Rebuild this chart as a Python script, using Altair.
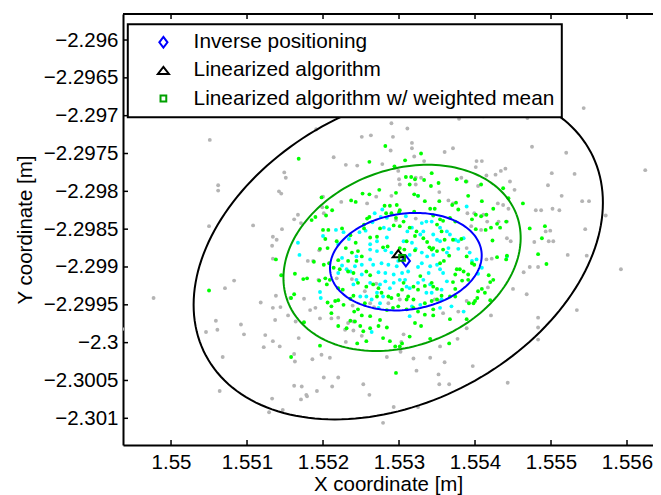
import math
import altair as alt
import pandas as pd

FONT = "Liberation Sans"

X_TICKS = [1.550, 1.551, 1.552, 1.553, 1.554, 1.555, 1.556]
Y_TICKS = [-2.296, -2.2965, -2.297, -2.2975, -2.298, -2.2985, -2.299,
           -2.2995, -2.300, -2.3005, -2.301]
X_DOMAIN = [1.549368, 1.556342]
Y_DOMAIN = [-2.301353, -2.295656]

METHODS = ["Inverse positioning", "Linearized algorithm",
           "Linearized algorithm w/ weighted mean"]
MEAN_X = [1.55309, 1.55299, 1.55304]
MEAN_Y = [-2.29892, -2.298825, -2.29888]
MARKER_COLORS = ["#0000ff", "#000000", "#00a000"]
MARKER_SHAPES = ["M0,-0.9L0.68,0L0,0.9L-0.68,0Z",
                 "M0,-0.6L0.92,0.6L-0.92,0.6Z",
                 "M-0.48,-0.48L0.48,-0.48L0.48,0.48L-0.48,0.48Z"]

# covariance ellipses: centre, semi-axes [m], orientation [deg]
ELL_CX = [1.55299, 1.55304, 1.55309]
ELL_CY = [-2.298825, -2.29888, -2.29893]
ELL_A = [0.002867, 0.001611, 0.001004]
ELL_B = [0.001956, 0.001164, 0.000635]
ELL_ANGLE = [28, 21, 8]
ELL_COLORS = ["#000000", "#00a000", "#0000ff"]

GRAY_PTS = [
    (1.55051, -2.29732), (1.55062, -2.29792), (1.55062, -2.29799), (1.55050, -2.29846),
    (1.55108, -2.29845), (1.55133, -2.29872), (1.55134, -2.29889), (1.55071, -2.29928),
    (1.55083, -2.29918), (1.54977, -2.29941), (1.55118, -2.29947), (1.55134, -2.29954),
    (1.55059, -2.29971), (1.55061, -2.29983), (1.55046, -2.29986), (1.55092, -2.29976),
    (1.55096, -2.29989), (1.55124, -2.29990), (1.55134, -2.29998), (1.55122, -2.30006),
    (1.55068, -2.30019), (1.55064, -2.30064), (1.55133, -2.30074), (1.55129, -2.30092),
    (1.54936, -2.29982), (1.55147, -2.30089), (1.55137, -2.29970), (1.55138, -2.29938),
    (1.55154, -2.29964), (1.55163, -2.30025), (1.55162, -2.30015), (1.55168, -2.29994),
    (1.55175, -2.29942), (1.55183, -2.29957), (1.55186, -2.30022), (1.55172, -2.30058),
    (1.55162, -2.30057), (1.55178, -2.30069), (1.55179, -2.30071), (1.55171, -2.30075),
    (1.55192, -2.30064), (1.55201, -2.30046), (1.55196, -2.29968), (1.55190, -2.29954),
    (1.55194, -2.29917), (1.55180, -2.29892), (1.55191, -2.29718), (1.55149, -2.29775),
    (1.55151, -2.29782), (1.55142, -2.29800), (1.55145, -2.29803), (1.55146, -2.29850),
    (1.55162, -2.29837), (1.55167, -2.29831), (1.55200, -2.29807), (1.55201, -2.29829),
    (1.55171, -2.29842), (1.55134, -2.29860), (1.55139, -2.29864), (1.55251, -2.29728),
    (1.55263, -2.29726), (1.55292, -2.29728), (1.55289, -2.29746), (1.55214, -2.29755),
    (1.55230, -2.29765), (1.55245, -2.29766), (1.55278, -2.29764), (1.55299, -2.29773),
    (1.55300, -2.29784), (1.55301, -2.29791), (1.55290, -2.29806), (1.55270, -2.29807),
    (1.55224, -2.29814), (1.55258, -2.29816), (1.55199, -2.29821), (1.55296, -2.29838),
    (1.55290, -2.29710), (1.55311, -2.29717), (1.55379, -2.29704), (1.55411, -2.29701),
    (1.55469, -2.29703), (1.55543, -2.29690), (1.55317, -2.29736), (1.55317, -2.29743),
    (1.55360, -2.29748), (1.55371, -2.29743), (1.55333, -2.29760), (1.55475, -2.29741),
    (1.55520, -2.29749), (1.55402, -2.29760), (1.55409, -2.29760), (1.55401, -2.29768),
    (1.55440, -2.29770), (1.55434, -2.29773), (1.55415, -2.29779), (1.55427, -2.29778),
    (1.55446, -2.29787), (1.55501, -2.29776), (1.55531, -2.29777), (1.55624, -2.29772),
    (1.55496, -2.29792), (1.55514, -2.29806), (1.55541, -2.29813), (1.55550, -2.29813),
    (1.55572, -2.29832), (1.55480, -2.29825), (1.55487, -2.29825), (1.55502, -2.29823),
    (1.55511, -2.29825), (1.55493, -2.29853), (1.55499, -2.29852), (1.55503, -2.29866),
    (1.55497, -2.29866), (1.55545, -2.29850), (1.55442, -2.29840), (1.55430, -2.29816),
    (1.55437, -2.29818), (1.55452, -2.29798), (1.55322, -2.29782), (1.55329, -2.29782),
    (1.55404, -2.29793), (1.55365, -2.29812), (1.55371, -2.29816), (1.55399, -2.29829),
    (1.55411, -2.29831), (1.55431, -2.29840), (1.55408, -2.29851), (1.55442, -2.29862),
    (1.55447, -2.29866), (1.55478, -2.29867), (1.55522, -2.29884), (1.55547, -2.29885),
    (1.55592, -2.29903), (1.55534, -2.29957), (1.55483, -2.29967), (1.55483, -2.29980),
    (1.55483, -2.29996), (1.55472, -2.29900), (1.55483, -2.29900), (1.55464, -2.29907),
    (1.55450, -2.29929), (1.55468, -2.29936), (1.55421, -2.29964), (1.55389, -2.29945),
    (1.55378, -2.29959), (1.55397, -2.30031), (1.55443, -2.30053), (1.55377, -2.29995),
    (1.55360, -2.30026), (1.55353, -2.30055), (1.55366, -2.30055), (1.55323, -2.30037),
    (1.55319, -2.30021), (1.55341, -2.30020), (1.55293, -2.30085), (1.55325, -2.30085),
    (1.55279, -2.30106), (1.55261, -2.30069), (1.55253, -2.30055), (1.55220, -2.30046),
    (1.55212, -2.30058), (1.55284, -2.30019), (1.55302, -2.30012), (1.55230, -2.29999),
    (1.55240, -2.29984), (1.55251, -2.29991), (1.55209, -2.30020), (1.55303, -2.29999),
    (1.55352, -2.30042), (1.55320, -2.29754), (1.55322, -2.29791), (1.55382, -2.29782),
    (1.55389, -2.29787), (1.55353, -2.29801), (1.55390, -2.29829), (1.55444, -2.29823),
    (1.55416, -2.29840), (1.55395, -2.29846), (1.55322, -2.29836), (1.55389, -2.29875),
    (1.55415, -2.29890), (1.55422, -2.29889), (1.55417, -2.29927), (1.55347, -2.29943),
    (1.55354, -2.29945), (1.55358, -2.29961), (1.55389, -2.29981), (1.55354, -2.30005),
    (1.55306, -2.29989), (1.55195, -2.29878), (1.55187, -2.29892), (1.55157, -2.29941),
    (1.55144, -2.29953), (1.55164, -2.29972), (1.55174, -2.29974), (1.55211, -2.29968),
    (1.55220, -2.29967), (1.55233, -2.29974), (1.55240, -2.29972), (1.55239, -2.29951),
    (1.55267, -2.29953), (1.55229, -2.29983), (1.55143, -2.30005), (1.55198, -2.30016),
    (1.55238, -2.29916), (1.55270, -2.29922), (1.55255, -2.29932), (1.55218, -2.29915),
    (1.55262, -2.29948), (1.55286, -2.29948), (1.55301, -2.29943),
]

CYAN_PTS = [
    (1.55167, -2.29868), (1.55200, -2.29859), (1.55169, -2.29884), (1.55196, -2.29933),
    (1.55197, -2.29941), (1.55217, -2.29851), (1.55227, -2.29854), (1.55234, -2.29863),
    (1.55220, -2.29870), (1.55248, -2.29854), (1.55256, -2.29852), (1.55268, -2.29829),
    (1.55278, -2.29824), (1.55276, -2.29834), (1.55284, -2.29835), (1.55265, -2.29841),
    (1.55280, -2.29848), (1.55287, -2.29850), (1.55271, -2.29866), (1.55284, -2.29861),
    (1.55262, -2.29870), (1.55309, -2.29833), (1.55325, -2.29806), (1.55389, -2.29820),
    (1.55330, -2.29842), (1.55336, -2.29840), (1.55343, -2.29840), (1.55311, -2.29853),
    (1.55317, -2.29848), (1.55354, -2.29848), (1.55363, -2.29853), (1.55367, -2.29857),
    (1.55374, -2.29864), (1.55378, -2.29866), (1.55385, -2.29862), (1.55328, -2.29857),
    (1.55332, -2.29853), (1.55345, -2.29857), (1.55350, -2.29864), (1.55354, -2.29866),
    (1.55306, -2.29866), (1.55317, -2.29868), (1.55365, -2.29875), (1.55314, -2.29884),
    (1.55322, -2.29876), (1.55330, -2.29881), (1.55337, -2.29886), (1.55345, -2.29884),
    (1.55363, -2.29881), (1.55378, -2.29876), (1.55393, -2.29881), (1.55396, -2.29892),
    (1.55402, -2.29890), (1.55409, -2.29901), (1.55404, -2.29909), (1.55442, -2.29886),
    (1.55325, -2.29900), (1.55330, -2.29895), (1.55341, -2.29899), (1.55350, -2.29897),
    (1.55354, -2.29903), (1.55358, -2.29908), (1.55339, -2.29908), (1.55332, -2.29917),
    (1.55325, -2.29921), (1.55312, -2.29906), (1.55308, -2.29917), (1.55314, -2.29928),
    (1.55363, -2.29919), (1.55343, -2.29934), (1.55356, -2.29930), (1.55317, -2.29952),
    (1.55328, -2.29950), (1.55354, -2.29954), (1.55369, -2.29952), (1.55336, -2.29934),
    (1.55262, -2.29877), (1.55271, -2.29879), (1.55282, -2.29878), (1.55290, -2.29881),
    (1.55299, -2.29892), (1.55244, -2.29886), (1.55251, -2.29897), (1.55242, -2.29899),
    (1.55236, -2.29906), (1.55262, -2.29890), (1.55266, -2.29897), (1.55277, -2.29895),
    (1.55286, -2.29897), (1.55297, -2.29899), (1.55304, -2.29908), (1.55293, -2.29910),
    (1.55282, -2.29908), (1.55273, -2.29907), (1.55231, -2.29903), (1.55225, -2.29898),
    (1.55220, -2.29908), (1.55251, -2.29910), (1.55244, -2.29917), (1.55240, -2.29923),
    (1.55262, -2.29921), (1.55275, -2.29923), (1.55282, -2.29919), (1.55293, -2.29921),
    (1.55301, -2.29917), (1.55288, -2.29928), (1.55271, -2.29934), (1.55279, -2.29939),
    (1.55257, -2.29939), (1.55264, -2.29943), (1.55275, -2.29948), (1.55249, -2.29939),
    (1.55225, -2.29888), (1.55264, -2.29986), (1.55273, -2.29954), (1.55314, -2.29965),
    (1.55310, -2.29926), (1.55341, -2.29923), (1.55385, -2.29959), (1.55356, -2.29943),
]

GREEN_PTS = [
    (1.55050, -2.29931), (1.55138, -2.29890), (1.55145, -2.29911), (1.55163, -2.29909),
    (1.55174, -2.29916), (1.55179, -2.29915), (1.55158, -2.29941), (1.55162, -2.29936),
    (1.55175, -2.29973), (1.55196, -2.30004), (1.55158, -2.30019), (1.55188, -2.29893),
    (1.55201, -2.29897), (1.55195, -2.29918), (1.55205, -2.29923), (1.55206, -2.29947),
    (1.55168, -2.29757), (1.55205, -2.29821), (1.55185, -2.29838), (1.55190, -2.29834),
    (1.55200, -2.29851), (1.55207, -2.29851), (1.55204, -2.29832), (1.55203, -2.29863),
    (1.55282, -2.29740), (1.55261, -2.29761), (1.55294, -2.29767), (1.55274, -2.29798),
    (1.55296, -2.29802), (1.55252, -2.29803), (1.55261, -2.29804), (1.55237, -2.29812),
    (1.55243, -2.29814), (1.55198, -2.29808), (1.55212, -2.29825), (1.55225, -2.29849),
    (1.55236, -2.29858), (1.55243, -2.29868), (1.55196, -2.29876), (1.55206, -2.29875),
    (1.55218, -2.29866), (1.55230, -2.29875), (1.55281, -2.29819), (1.55288, -2.29819),
    (1.55297, -2.29818), (1.55283, -2.29829), (1.55290, -2.29829), (1.55296, -2.29835),
    (1.55300, -2.29828), (1.55258, -2.29836), (1.55261, -2.29834), (1.55254, -2.29844),
    (1.55254, -2.29849), (1.55275, -2.29849), (1.55293, -2.29845), (1.55301, -2.29846),
    (1.55262, -2.29861), (1.55271, -2.29860), (1.55279, -2.29874), (1.55285, -2.29873),
    (1.55329, -2.29750), (1.55308, -2.29759), (1.55343, -2.29776), (1.55309, -2.29781),
    (1.55316, -2.29781), (1.55321, -2.29784), (1.55314, -2.29791), (1.55333, -2.29785),
    (1.55352, -2.29789), (1.55376, -2.29784), (1.55388, -2.29787), (1.55408, -2.29791),
    (1.55437, -2.29796), (1.55444, -2.29809), (1.55320, -2.29804), (1.55325, -2.29806),
    (1.55342, -2.29793), (1.55334, -2.29813), (1.55353, -2.29813), (1.55370, -2.29818),
    (1.55375, -2.29815), (1.55378, -2.29824), (1.55409, -2.29813), (1.55463, -2.29816),
    (1.55341, -2.29823), (1.55347, -2.29823), (1.55320, -2.29827), (1.55301, -2.29825),
    (1.55345, -2.29832), (1.55408, -2.29833), (1.55415, -2.29831), (1.55424, -2.29823),
    (1.55429, -2.29843), (1.55433, -2.29848), (1.55441, -2.29840), (1.55414, -2.29851),
    (1.55421, -2.29848), (1.55401, -2.29850), (1.55396, -2.29837), (1.55423, -2.29865),
    (1.55382, -2.29863), (1.55354, -2.29837), (1.55358, -2.29839), (1.55350, -2.29844),
    (1.55356, -2.29853), (1.55360, -2.29864), (1.55337, -2.29867), (1.55345, -2.29875),
    (1.55340, -2.29874), (1.55332, -2.29862), (1.55323, -2.29853), (1.55371, -2.29864),
    (1.55314, -2.29848), (1.55321, -2.29859), (1.55310, -2.29866), (1.55306, -2.29840),
    (1.55301, -2.29875), (1.55208, -2.29895), (1.55214, -2.29901), (1.55220, -2.29891),
    (1.55222, -2.29903), (1.55203, -2.29915), (1.55209, -2.29917), (1.55220, -2.29928),
    (1.55226, -2.29930), (1.55233, -2.29892), (1.55244, -2.29892), (1.55251, -2.29886),
    (1.55238, -2.29881), (1.55246, -2.29879), (1.55233, -2.29906), (1.55240, -2.29908),
    (1.55257, -2.29906), (1.55262, -2.29911), (1.55246, -2.29921), (1.55257, -2.29926),
    (1.55266, -2.29923), (1.55273, -2.29928), (1.55220, -2.29944), (1.55216, -2.29945),
    (1.55211, -2.29952), (1.55211, -2.29961), (1.55241, -2.29959), (1.55246, -2.29956),
    (1.55251, -2.29964), (1.55262, -2.29965), (1.55236, -2.29971), (1.55242, -2.29972),
    (1.55275, -2.29970), (1.55262, -2.29981), (1.55273, -2.29978), (1.55284, -2.29980),
    (1.55231, -2.29981), (1.55249, -2.29978), (1.55253, -2.29985), (1.55220, -2.29978),
    (1.55245, -2.30001), (1.55257, -2.29998), (1.55288, -2.29998), (1.55301, -2.30005),
    (1.55295, -2.30005), (1.55279, -2.29994), (1.55277, -2.29934), (1.55271, -2.29939),
    (1.55286, -2.29939), (1.55290, -2.29941), (1.55299, -2.29937), (1.55284, -2.29957),
    (1.55292, -2.29954), (1.55299, -2.29952), (1.55240, -2.29938), (1.55236, -2.29942),
    (1.55307, -2.29877), (1.55321, -2.29878), (1.55343, -2.29877), (1.55350, -2.29879),
    (1.55358, -2.29877), (1.55366, -2.29885), (1.55359, -2.29892), (1.55354, -2.29895),
    (1.55376, -2.29903), (1.55380, -2.29903), (1.55374, -2.29910), (1.55385, -2.29906),
    (1.55391, -2.29910), (1.55396, -2.29895), (1.55399, -2.29897), (1.55389, -2.29886),
    (1.55429, -2.29887), (1.55441, -2.29890), (1.55442, -2.29885), (1.55418, -2.29911),
    (1.55424, -2.29917), (1.55420, -2.29920), (1.55409, -2.29929), (1.55404, -2.29932),
    (1.55403, -2.29941), (1.55413, -2.29934), (1.55420, -2.29944), (1.55400, -2.29945),
    (1.55398, -2.29948), (1.55371, -2.29920), (1.55374, -2.29929), (1.55367, -2.29939),
    (1.55374, -2.29939), (1.55383, -2.29918), (1.55391, -2.29917), (1.55345, -2.29926),
    (1.55343, -2.29921), (1.55350, -2.29929), (1.55356, -2.29938), (1.55350, -2.29943),
    (1.55343, -2.29945), (1.55334, -2.29948), (1.55328, -2.29912), (1.55334, -2.29925),
    (1.55319, -2.29926), (1.55325, -2.29930), (1.55312, -2.29939), (1.55310, -2.29943),
    (1.55319, -2.29943), (1.55304, -2.29930), (1.55306, -2.29921), (1.55310, -2.29956),
    (1.55319, -2.29954), (1.55325, -2.29959), (1.55345, -2.29956), (1.55334, -2.29963),
    (1.55345, -2.29964), (1.55367, -2.29969), (1.55389, -2.29969), (1.55321, -2.29974),
    (1.55329, -2.29978), (1.55314, -2.29992), (1.55304, -2.30001), (1.55341, -2.29995),
    (1.55366, -2.30001), (1.55483, -2.29883), (1.55494, -2.29896), (1.55392, -2.29948),
    (1.55296, -2.30040), (1.55227, -2.29950), (1.55255, -2.29948), (1.55472, -2.29849),
    (1.55492, -2.29846), (1.55488, -2.29862), (1.55401, -2.29831), (1.55367, -2.29835),
    (1.55374, -2.29840), (1.55391, -2.29806),
]

W, H = 530, 431

xs = alt.Scale(domain=X_DOMAIN, nice=False, zero=False)
ys = alt.Scale(domain=Y_DOMAIN, nice=False, zero=False)

X_ENC = alt.X("x:Q", scale=xs, axis=alt.Axis(values=X_TICKS, format="~g",
              title="X coordinate [m]", labelPadding=7, titlePadding=2,
              labelOverlap=False))
Y_ENC = alt.Y("y:Q", scale=ys, axis=alt.Axis(values=Y_TICKS, format="~g",
              title="Y coordinate [m]", labelPadding=5, titlePadding=8,
              labelOverlap=False))


def pts_df(pts):
    return pd.DataFrame({"x": [p[0] for p in pts], "y": [p[1] for p in pts]})


gray = alt.Chart(pts_df(GRAY_PTS)).mark_circle(
    size=15, color="#b4b4b4", opacity=1, clip=True).encode(x=X_ENC, y=Y_ENC)
cyan = alt.Chart(pts_df(CYAN_PTS)).mark_circle(
    size=15, color="#00ffff", opacity=1, clip=True).encode(x=X_ENC, y=Y_ENC)
green = alt.Chart(pts_df(GREEN_PTS)).mark_circle(
    size=15, color="#00ff00", opacity=1, clip=True).encode(x=X_ENC, y=Y_ENC)

rows = []
for k in range(3):
    th = math.radians(ELL_ANGLE[k])
    for i in range(181):
        t = 2 * math.pi * i / 180
        ca, sb = ELL_A[k] * math.cos(t), ELL_B[k] * math.sin(t)
        rows.append({"ell": k, "i": i, "col": ELL_COLORS[k],
                     "x": ELL_CX[k] + ca * math.cos(th) - sb * math.sin(th),
                     "y": ELL_CY[k] + ca * math.sin(th) + sb * math.cos(th)})
ell = alt.Chart(pd.DataFrame(rows)).mark_line(strokeWidth=2, clip=True).encode(
    x=X_ENC, y=Y_ENC, detail="ell:N", order="i:Q",
    color=alt.Color("col:N", scale=None))

means = pd.DataFrame({"x": MEAN_X, "y": MEAN_Y, "method": METHODS})
markers = alt.Chart(means).mark_point(
    filled=False, strokeWidth=2, size=144, opacity=1, clip=True).encode(
    x=X_ENC, y=Y_ENC,
    color=alt.Color("method:N", title=None,
                    scale=alt.Scale(domain=METHODS, range=MARKER_COLORS)),
    shape=alt.Shape("method:N", title=None,
                    scale=alt.Scale(domain=METHODS, range=MARKER_SHAPES)),
)

xt = pd.DataFrame({"x": X_TICKS})
yt = pd.DataFrame({"y": Y_TICKS})
one = pd.DataFrame({"a": [0]})
top_ticks = alt.Chart(xt).mark_rule(color="black", strokeWidth=1.5).encode(
    x=X_ENC, y=alt.value(0), y2=alt.value(5))
bot_ticks = alt.Chart(xt).mark_rule(color="black", strokeWidth=1.5).encode(
    x=X_ENC, y=alt.value(H - 5), y2=alt.value(H))
left_ticks = alt.Chart(yt).mark_rule(color="black", strokeWidth=1.5).encode(
    y=Y_ENC, x=alt.value(0), x2=alt.value(5))
top_spine = alt.Chart(one).mark_rule(color="black", strokeWidth=2).encode(
    x=alt.value(0), x2=alt.value(W), y=alt.value(0))

chart = alt.layer(
    gray, cyan, green, ell, markers, top_ticks, bot_ticks, left_ticks, top_spine
).properties(
    width=W, height=H,
    padding={"left": 115, "top": 6, "right": 0, "bottom": 50},
    autosize=alt.AutoSizeParams(type="none"),
).configure_view(strokeWidth=0).configure_axis(
    labelFont=FONT, labelFontSize=20.5, labelColor="black",
    titleFont=FONT, titleFontSize=20.5, titleFontWeight="normal",
    titleColor="black", domainColor="black", domainWidth=2,
    ticks=False, grid=False,
).configure_legend(
    orient="none", legendX=4.8, legendY=10.3, padding=7.5, titlePadding=0,
    fillColor="white", strokeColor="black", strokeWidth=2,
    labelFont=FONT, labelFontSize=20.8, labelColor="black", labelLimit=600,
    symbolStrokeWidth=2, symbolSize=144, symbolOffset=17.7,
    labelOffset=19.8, rowPadding=6.1, clipHeight=21,
)

chart.save("out.html", embed_options={"renderer": "svg", "actions": False})
